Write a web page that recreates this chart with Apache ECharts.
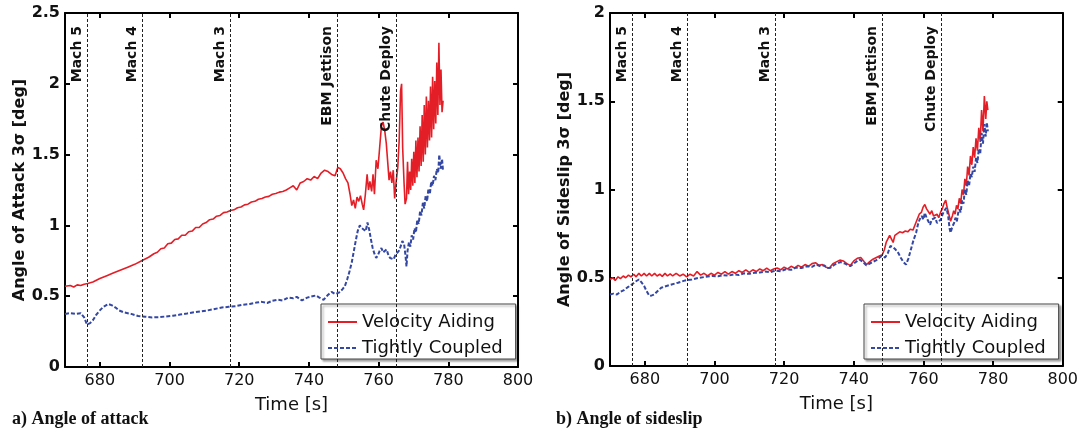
<!DOCTYPE html>
<html>
<head>
<meta charset="utf-8">
<script src="https://cdn.jsdelivr.net/npm/echarts@6/dist/echarts.min.js"></script>
<style>
html,body{margin:0;padding:0;background:#fff;}
#c{width:1081px;height:433px;}
</style>
</head>
<body>
<div id="c"></div>
<script>
// ---- tick labels ----
var xTicks = [680, 700, 720, 740, 760, 780, 800];
var yTicksA = [0, 0.5, 1, 1.5, 2, 2.5];
var yTicksB = [0, 0.5, 1, 1.5, 2];

// ---- events ----
var eventNames = ['Mach 5', 'Mach 4', 'Mach 3', 'EBM Jettison', 'Chute Deploy'];
var eventTimes = [676.3, 692.2, 717.5, 748.2, 765.1];

// ---- a) Angle of attack: Velocity Aiding ----
var aVelT = [670,671.5,672.5,673.5,674.5,675.5,676.5,678,680,682,684,686,688,690,692,694,695.5,696.5,697.5,698.5,699.5,700.5,701.5,702.5,703.5,704.5,705.5,706.5,707.5,708.5,709.5,710.5,711.5,712.5,713.5,714.5,715.5,716.5,717.5,718.5,719.5,720.5,721.5,722.5,723.5,724.5,725.5,726.5,727.5,728.5,729.5,730.5,731.5,732.5,733.5,734.5,735.5,736.5,737.5,738.5,739.5,740.5,741.5,742.5,743.5,744.5,745.5,746.5,747.5,748.3,749,749.8,750.5,751.2,751.8,752.3,752.8,753.3,753.8,754.3,754.8,755.3,755.7,756.2,756.7,757.1,757.5,758,758.4,758.8,759.3,759.8,760.3,760.8,761.3,761.8,762.2,762.6,763,763.4,763.8,764.2,764.6,765,765.5,765.9,766.3,766.6,766.9,767.3,767.6,768,768.3,768.6,768.9,769.2,769.5,769.8,770.1,770.4,770.7,771,771.3,771.6,771.9,772.2,772.5,772.8,773.1,773.4,773.7,774,774.3,774.6,774.9,775.2,775.5,775.8,776.1,776.4,776.7,777,777.3,777.6,777.9,778.2,778.5];
var aVelV = [0.57,0.575,0.565,0.58,0.575,0.585,0.59,0.60,0.625,0.645,0.665,0.685,0.705,0.725,0.75,0.775,0.80,0.81,0.835,0.84,0.87,0.875,0.90,0.905,0.93,0.93,0.955,0.96,0.985,0.985,1.01,1.02,1.04,1.045,1.065,1.07,1.09,1.095,1.105,1.11,1.125,1.13,1.145,1.15,1.165,1.17,1.185,1.19,1.2,1.205,1.22,1.225,1.235,1.24,1.25,1.265,1.28,1.25,1.3,1.31,1.33,1.32,1.345,1.33,1.37,1.39,1.38,1.36,1.35,1.41,1.40,1.37,1.33,1.30,1.22,1.14,1.18,1.12,1.20,1.17,1.21,1.15,1.11,1.22,1.36,1.25,1.31,1.24,1.36,1.22,1.46,1.40,1.55,1.70,1.73,1.66,1.58,1.45,1.32,1.38,1.30,1.39,1.19,1.30,1.41,1.60,1.95,2.00,1.55,1.30,1.15,1.19,1.45,1.22,1.38,1.25,1.47,1.28,1.52,1.30,1.60,1.34,1.62,1.38,1.70,1.42,1.78,1.45,1.85,1.50,1.91,1.55,1.88,1.60,1.98,1.62,2.05,1.68,2.02,1.72,2.15,1.78,2.29,1.85,2.10,1.80,1.88];

// ---- a) Angle of attack: Tightly Coupled ----
var aTigT = [670,671.5,673,674.5,675.5,676.3,677.2,678,679,680,681,682.4,683.5,684.5,685.5,687,689,691,693,695,697,699,701,703,705,707,709,711,713,715,717,719,721,723,725,726.5,728,729.5,731,732.5,734,735.5,736.5,738,739.5,741,742,743,744.2,745.5,746.5,747.5,748.6,749.5,750.3,751,751.7,752.3,752.9,753.5,754,754.6,755.2,755.7,756.3,756.8,757.3,757.8,758.3,758.8,759.3,759.8,760.3,760.8,761.3,761.8,762.3,762.8,763.3,763.8,764.3,764.8,765.3,765.8,766.3,766.8,767.3,767.7,768,768.3,768.7,769.1,769.5,769.9,770.3,770.7,771.1,771.5,771.9,772.3,772.7,773.1,773.5,773.9,774.3,774.7,775.1,775.5,775.9,776.3,776.7,777.1,777.4,777.8,778.2,778.5];
var aTigV = [0.375,0.38,0.375,0.38,0.35,0.30,0.31,0.33,0.37,0.40,0.425,0.445,0.435,0.42,0.40,0.385,0.375,0.36,0.355,0.35,0.352,0.357,0.362,0.37,0.378,0.387,0.393,0.40,0.41,0.42,0.425,0.43,0.44,0.445,0.455,0.46,0.452,0.468,0.475,0.47,0.49,0.485,0.495,0.47,0.49,0.50,0.505,0.49,0.475,0.51,0.53,0.515,0.525,0.545,0.57,0.62,0.68,0.74,0.82,0.90,0.96,1.0,0.98,0.99,0.96,1.02,0.97,0.90,0.84,0.80,0.77,0.79,0.82,0.84,0.81,0.80,0.83,0.79,0.77,0.78,0.76,0.79,0.78,0.82,0.85,0.89,0.87,0.79,0.71,0.82,0.88,0.85,0.93,0.90,0.98,0.95,1.04,1.01,1.10,1.07,1.16,1.12,1.21,1.17,1.26,1.22,1.31,1.28,1.35,1.32,1.40,1.37,1.50,1.40,1.47,1.38];

// ---- b) Angle of sideslip: Velocity Aiding ----
var bVelT = [670,670.8,671.5,672.3,673,673.8,674.5,675.3,676,676.8,677.5,678.3,679,679.8,680.5,681.3,682,682.8,683.5,684.3,685,685.8,686.5,687.3,688,689,690,691,692,693,694,695,696,697,698,699,700,701,702,703,704,705,706,707,708,709,710,711,712,713,714,715,716,717,718,719,720,721,722,723,724,725,726,727,728,729,730,731,732,733,734,735,736,737,738,739,740,741,742,743,743.7,744.5,745.5,746.5,747.5,748.2,748.8,749.3,749.8,750.3,750.8,751.3,751.8,752.5,753.2,754,754.8,755.5,756.2,757,757.6,758.2,758.8,759.4,759.9,760.4,760.9,761.4,761.9,762.4,762.9,763.4,763.9,764.4,764.9,765.4,765.9,766.4,766.8,767.3,767.8,768.3,768.7,769.1,769.5,769.9,770.3,770.7,771.1,771.5,771.9,772.3,772.7,773.1,773.5,773.9,774.3,774.7,775.1,775.5,775.9,776.3,776.7,777.1,777.5,777.9,778.2,778.5];
var bVelV = [0.49,0.50,0.485,0.505,0.495,0.51,0.50,0.515,0.505,0.52,0.505,0.525,0.51,0.525,0.51,0.525,0.51,0.525,0.51,0.52,0.508,0.525,0.51,0.522,0.51,0.525,0.51,0.52,0.505,0.52,0.51,0.535,0.515,0.525,0.51,0.525,0.515,0.53,0.52,0.535,0.52,0.535,0.525,0.54,0.53,0.545,0.53,0.545,0.535,0.55,0.54,0.555,0.54,0.55,0.555,0.545,0.56,0.55,0.565,0.555,0.57,0.56,0.575,0.565,0.58,0.585,0.57,0.575,0.56,0.555,0.58,0.59,0.60,0.595,0.58,0.57,0.595,0.61,0.615,0.59,0.575,0.59,0.605,0.615,0.625,0.63,0.66,0.70,0.72,0.74,0.73,0.70,0.74,0.75,0.76,0.755,0.765,0.76,0.775,0.77,0.80,0.83,0.86,0.87,0.90,0.915,0.89,0.875,0.86,0.88,0.85,0.84,0.86,0.84,0.87,0.89,0.92,0.94,0.90,0.86,0.82,0.85,0.88,0.86,0.91,0.89,0.95,0.92,1.00,0.97,1.06,1.02,1.13,1.08,1.19,1.14,1.24,1.18,1.29,1.22,1.35,1.27,1.45,1.33,1.53,1.40,1.50,1.45];

// ---- b) Angle of sideslip: Tightly Coupled ----
var bTigT = [670,671,672,673,674,675,676.3,677.3,678.3,679,679.8,680.5,681.3,682,682.7,683.7,684.7,686,687.7,689.5,691.6,693.5,695.6,697.5,699.5,701,702.5,704,705.5,707,708.5,710,711.5,713,714.5,716,717.5,719,720.5,722,723.3,725,726.5,728,729.2,730.5,731.5,732.5,733.3,734.5,736.1,737.5,739,740.3,741.6,742.6,743.6,745,746.5,748,749,749.8,750.5,751.2,752,752.8,753.5,754.2,755,755.7,756.4,757.1,757.9,758.4,758.9,759.5,760,760.4,760.9,761.4,761.9,762.4,762.9,763.4,763.9,764.4,765,765.5,766,766.6,767.1,767.5,767.8,768.3,768.8,769.2,769.6,770,770.3,770.7,771.1,771.5,771.9,772.3,772.7,773.1,773.5,773.9,774.3,774.7,775.1,775.5,775.9,776.3,776.7,777.1,777.5,777.9,778.2,778.5];
var bTigV = [0.405,0.41,0.405,0.42,0.43,0.445,0.462,0.478,0.49,0.475,0.453,0.425,0.398,0.40,0.405,0.425,0.443,0.452,0.462,0.472,0.485,0.49,0.50,0.505,0.51,0.508,0.515,0.512,0.519,0.515,0.525,0.522,0.528,0.53,0.535,0.532,0.54,0.537,0.548,0.545,0.557,0.555,0.565,0.562,0.575,0.565,0.57,0.555,0.557,0.575,0.589,0.58,0.566,0.585,0.604,0.59,0.57,0.585,0.60,0.623,0.615,0.64,0.68,0.675,0.66,0.64,0.613,0.59,0.575,0.61,0.66,0.71,0.755,0.80,0.83,0.85,0.83,0.868,0.84,0.82,0.80,0.83,0.82,0.84,0.81,0.80,0.83,0.86,0.88,0.896,0.85,0.78,0.755,0.79,0.81,0.84,0.82,0.87,0.887,0.87,0.94,0.92,1.00,0.97,1.05,1.02,1.09,1.07,1.13,1.10,1.18,1.15,1.23,1.20,1.32,1.26,1.37,1.30,1.38,1.33];

function zip(t, v) { return t.map(function (x, i) { return [x, v[i]]; }); }

var FONT = 'DejaVu Sans';
var RED = '#e41e26';
var BLUE = '#3347a3';

function xAx(grid, pos, show) {
  return {
    type: 'value', gridIndex: grid, position: pos, min: 670, max: 800,
    name: show ? 'Time [s]' : '', nameLocation: 'middle', nameGap: 29,
    nameTextStyle: { fontFamily: FONT, fontSize: 18, color: '#111' },
    axisLine: { show: true, onZero: false, lineStyle: { color: '#000', width: 2 } },
    axisTick: { show: true, inside: true, length: 5, customValues: xTicks, lineStyle: { color: '#000', width: 2 } },
    axisLabel: { show: show, customValues: xTicks, margin: 6, fontFamily: FONT, fontSize: 16, color: '#111' },
    splitLine: { show: false }
  };
}
function yAx(grid, pos, show, max, ticks, name) {
  return {
    type: 'value', gridIndex: grid, position: pos, min: 0, max: max, interval: 0.5,
    name: show ? name : '', nameLocation: 'middle', nameGap: 36,
    nameTextStyle: { fontFamily: FONT, fontSize: 16, fontWeight: 'bold', color: '#111' },
    axisLine: { show: true, onZero: false, lineStyle: { color: '#000', width: 2 } },
    axisTick: { show: true, inside: true, length: 5, customValues: ticks, lineStyle: { color: '#000', width: 2 } },
    axisLabel: { show: show, customValues: ticks, margin: 5, fontFamily: FONT, fontSize: 16, fontWeight: 'bold', color: '#111' },
    splitLine: { show: false }
  };
}
function eventLines() {
  return {
    silent: true, symbol: 'none', animation: false,
    lineStyle: { color: '#222', type: [3, 2], width: 1 },
    label: { show: true, position: 'insideEndTop', formatter: '{b}', fontFamily: FONT, fontWeight: 'bold', fontSize: 14, color: '#111', distance: 3, padding: [0, 10, 0, 0] },
    data: eventTimes.map(function (t, i) { return { name: eventNames[i], xAxis: t }; })
  };
}
function legendAt(left) {
  return {
    left: left, top: 304, orient: 'vertical',
    data: ['Velocity Aiding', 'Tightly Coupled'],
    itemWidth: 29, itemHeight: 14, itemGap: 8,
    padding: [9, 13, 2, 6],
    backgroundColor: '#fff', borderColor: '#444', borderWidth: 1,
    shadowColor: 'rgba(0,0,0,0.35)', shadowOffsetX: 2, shadowOffsetY: 2, shadowBlur: 2,
    itemStyle: { opacity: 0 },
    textStyle: { fontFamily: FONT, fontSize: 18, color: '#111' },
    selectedMode: false
  };
}

var option = {
  animation: false,
  backgroundColor: '#fff',
  title: [
    { text: 'a) Angle of attack', left: 12, top: 410, padding: 0, textStyle: { fontFamily: 'Liberation Serif', fontWeight: 'bold', fontSize: 18, color: '#111' } },
    { text: 'b) Angle of sideslip', left: 556, top: 410, padding: 0, textStyle: { fontFamily: 'Liberation Serif', fontWeight: 'bold', fontSize: 18, color: '#111' } }
  ],
  legend: [legendAt(321), legendAt(864)],
  grid: [
    { left: 65, top: 13, width: 453, height: 354 },
    { left: 610, top: 13, width: 453, height: 353 }
  ],
  xAxis: [xAx(0, 'bottom', true), xAx(0, 'top', false), xAx(1, 'bottom', true), xAx(1, 'top', false)],
  yAxis: [
    yAx(0, 'left', true, 2.5, yTicksA, 'Angle of Attack 3\u03c3 [deg]'),
    yAx(0, 'right', false, 2.5, yTicksA, ''),
    yAx(1, 'left', true, 2, yTicksB, 'Angle of Sideslip 3\u03c3 [deg]'),
    yAx(1, 'right', false, 2, yTicksB, '')
  ],
  series: [
    { name: 'Velocity Aiding', type: 'line', xAxisIndex: 0, yAxisIndex: 0, data: zip(aVelT, aVelV), symbol: 'none', lineStyle: { color: RED, width: 1.6 }, itemStyle: { color: RED }, markLine: eventLines() },
    { name: 'Tightly Coupled', type: 'line', xAxisIndex: 0, yAxisIndex: 0, data: zip(aTigT, aTigV), symbol: 'none', lineStyle: { color: BLUE, width: 2, type: [4, 2] }, itemStyle: { color: BLUE } },
    { name: 'Velocity Aiding', type: 'line', xAxisIndex: 2, yAxisIndex: 2, data: zip(bVelT, bVelV), symbol: 'none', lineStyle: { color: RED, width: 1.6 }, itemStyle: { color: RED }, markLine: eventLines() },
    { name: 'Tightly Coupled', type: 'line', xAxisIndex: 2, yAxisIndex: 2, data: zip(bTigT, bTigV), symbol: 'none', lineStyle: { color: BLUE, width: 2, type: [4, 2] }, itemStyle: { color: BLUE } }
  ]
};
var chart = echarts.init(document.getElementById('c'), null, { renderer: 'canvas' });
chart.setOption(option);
</script>
</body>
</html>
